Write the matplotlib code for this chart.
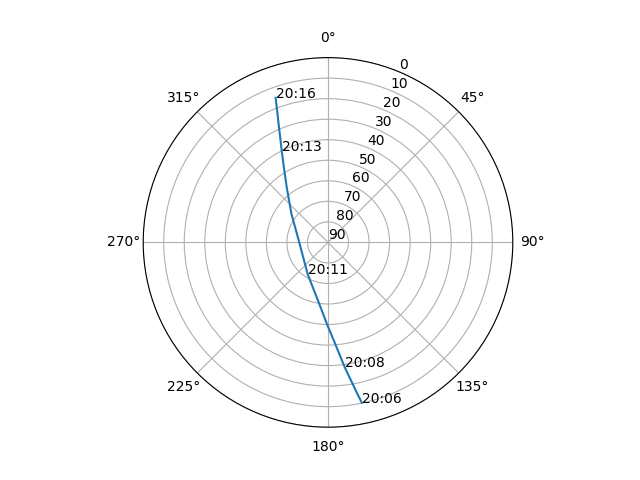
import numpy as np
import matplotlib
matplotlib.use("Agg")
import matplotlib.pyplot as plt

# pass samples every 30 s, 20:06:00 .. 20:16:00
times = ["20:06", "20:06", "20:07", "20:07", "20:08", "20:08", "20:09",
         "20:09", "20:10", "20:10", "20:11", "20:11", "20:12", "20:12",
         "20:13", "20:13", "20:14", "20:14", "20:15", "20:15", "20:16"]
azimuth = [168.1, 168.7, 169.4, 170.2, 171.2, 172.4, 173.9, 176.3, 180.6,
           189.0, 212.5, 270.0, 308.0, 322.5, 329.3, 333.2, 335.7, 337.3,
           338.5, 339.4, 340.1]
elevation = [10.2, 13.3, 16.7, 20.4, 24.4, 28.8, 34.4, 41.4, 50.0, 60.6,
             71.6, 76.0, 67.4, 57.2, 48.0, 40.0, 33.3, 27.7, 23.0, 18.7, 15.1]
label_every = 5

fig = plt.figure(figsize=(6.4, 4.8), dpi=100)
ax = fig.add_subplot(111, projection="polar")
ax.set_theta_zero_location("N")
ax.set_theta_direction(-1)

theta = np.radians(azimuth)
ax.plot(theta, elevation)

# time stamp every few samples
for i in range(0, len(times), label_every):
    ax.text(theta[i], elevation[i], times[i])

ax.set_rlim(90, 0)
ax.set_rticks(range(0, 91, 10))

fig.savefig("out.png")
